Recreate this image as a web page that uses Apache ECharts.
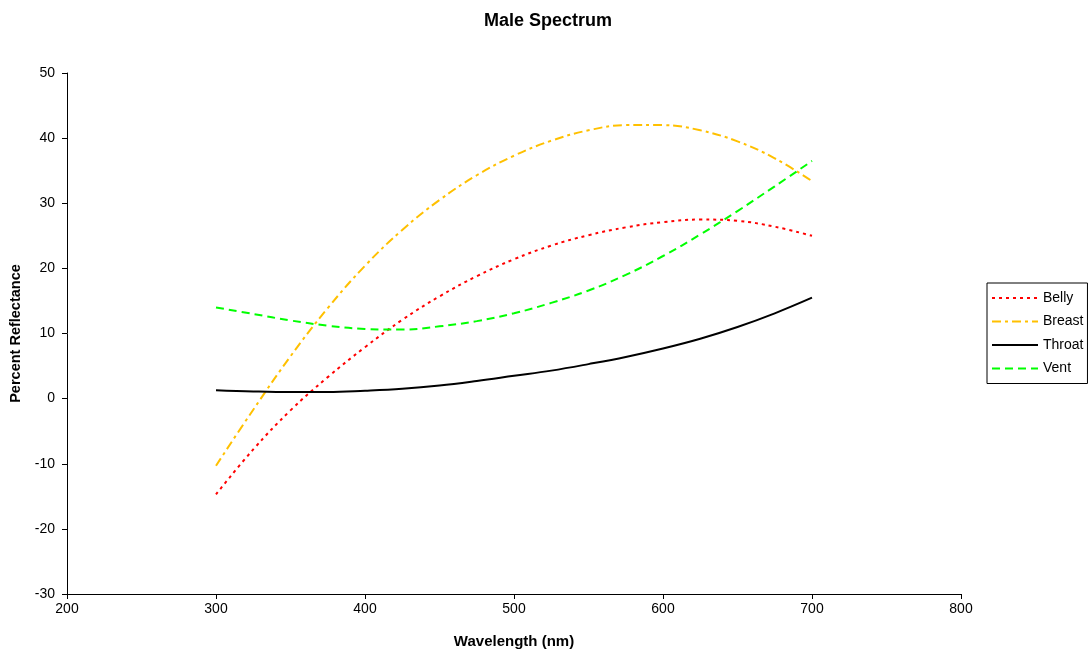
<!DOCTYPE html>
<html><head><meta charset="utf-8">
<script src="https://cdn.jsdelivr.net/npm/echarts@6/dist/echarts.min.js"></script>
<style>html,body{margin:0;padding:0;background:#fff}#c{width:1090px;height:658px}</style>
</head><body><div id="c"></div>
<script>
const wavelengths = [300,325,350,375,400,425,450,475,500,525,550,575,600,625,650,675,700];
const belly  = [-14.7,-7.8,-1.8,3.3,7.9,12.1,15.7,18.8,21.4,23.5,25.1,26.3,27.1,27.5,27.3,26.4,25.0];
const breast = [-10.3,-1.7,6.5,13.9,20.4,25.9,30.5,34.3,37.3,39.6,41.2,42.0,42.0,41.2,39.5,36.9,33.4];
const throat = [1.3,1.1,1.0,1.0,1.2,1.5,2.0,2.7,3.5,4.3,5.3,6.4,7.7,9.2,11.0,13.1,15.5];
const vent   = [14.0,13.0,12.0,11.2,10.7,10.6,11.1,11.9,13.1,14.7,16.6,19.0,21.9,25.2,28.8,32.6,36.5];
const seriesNames = ['Belly','Breast','Throat','Vent'];

const pair = arr => wavelengths.map((w,i)=>[w,arr[i]]);
const font = 'Liberation Sans, Arial, sans-serif';
const styles = [
  {color:'#ff0000', type:[3,4]},
  {color:'#ffc000', type:[9,4,3,4]},
  {color:'#000000', type:'solid'},
  {color:'#00ff00', type:[8,5]}
];
const datas = [belly, breast, throat, vent];

const chart = echarts.init(document.getElementById('c'));
chart.setOption({
  animation:false,
  backgroundColor:'#fff',
  title:{text:'Male Spectrum', left:543, top:7, textAlign:'center',
    textStyle:{fontFamily:font, fontSize:18, fontWeight:'bold', color:'#000'}},
  legend:{orient:'vertical', left:987, top:283,
    borderColor:'#000', borderWidth:1, padding:[8,4,8,4], itemGap:9.5,
    itemWidth:46, itemHeight:14,
    itemStyle:{opacity:0},
    textStyle:{fontFamily:font, fontSize:14, color:'#000'},
    data:seriesNames},
  grid:{left:67, right:129, top:73, bottom:64},
  xAxis:{type:'value', min:200, max:800, interval:100,
    name:'Wavelength (nm)', nameLocation:'middle', nameGap:40,
    nameTextStyle:{fontFamily:font, fontSize:15, fontWeight:'bold', color:'#000'},
    axisLine:{onZero:false, lineStyle:{color:'#000', width:1}},
    axisTick:{inside:false, length:5, lineStyle:{color:'#000'}},
    axisLabel:{fontFamily:font, fontSize:14, color:'#000', margin:8},
    splitLine:{show:false}},
  yAxis:{type:'value', min:-30, max:50, interval:10,
    name:'Percent Reflectance', nameLocation:'middle', nameGap:39,
    nameTextStyle:{fontFamily:font, fontSize:14.5, fontWeight:'bold', color:'#000'},
    axisLine:{show:true, lineStyle:{color:'#000', width:1}},
    axisTick:{show:true, inside:false, length:5, lineStyle:{color:'#000'}},
    axisLabel:{fontFamily:font, fontSize:14, color:'#000', margin:12},
    splitLine:{show:false}},
  series: seriesNames.map((n,i)=>({
    name:n, type:'line', data:pair(datas[i]), smooth:0.4, showSymbol:false, symbol:'none',
    color:styles[i].color,
    lineStyle:{color:styles[i].color, width:2, type:styles[i].type}
  }))
});
</script></body></html>
